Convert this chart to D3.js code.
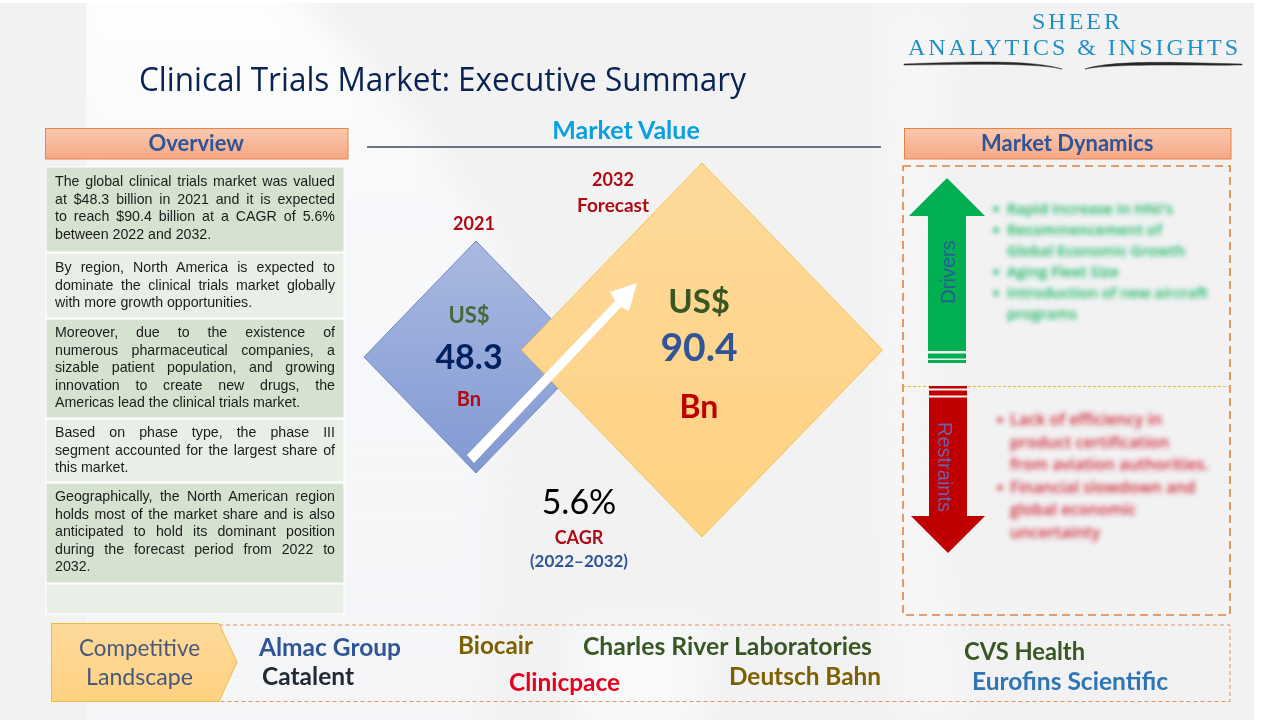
<!DOCTYPE html>
<html>
<head>
<meta charset="utf-8">
<title>Clinical Trials Market: Executive Summary</title>
<script src="https://cdn.jsdelivr.net/npm/d3@7"></script>
<style>
  html, body { margin: 0; padding: 0; background: #fff; }
  svg { display: block; }
  text { font-family: 'Lato', sans-serif; }
</style>
</head>
<body>
<svg id="chart" width="1280" height="720"></svg>
<script>
const marketYears = ['2021', '2032'];
const marketValues = [48.3, 90.4];
const cagrValue = '5.6%';
const cagrPeriod = '(2022–2032)';

const overviewParagraphs = [
    ['The global clinical trials market was valued', 'at $48.3 billion in 2021 and it is expected', 'to reach $90.4 billion at a CAGR of 5.6%', 'between 2022 and 2032.'],
    ['By region, North America is expected to', 'dominate the clinical trials market globally', 'with more growth opportunities.'],
    ['Moreover, due to the existence of', 'numerous pharmaceutical companies, a', 'sizable patient population, and growing', 'innovation to create new drugs, the', 'Americas lead the clinical trials market.'],
    ['Based on phase type, the phase III', 'segment accounted for the largest share of', 'this market.'],
    ['Geographically, the North American region', 'holds most of the market share and is also', 'anticipated to hold its dominant position', 'during the forecast period from 2022 to', '2032.'],
    []
];
const driverLines = ['Rapid increase in HNI\'s', 'Recommencement of', 'Global Economic Growth', 'Aging Fleet Size', 'Introduction of new aircraft', 'programs'];
const driverBullets = [true, true, false, true, true, false];
const restraintLines = ['Lack of efficiency in', 'product certification', 'from aviation authorities.', 'Financial slowdown and', 'global economic', 'uncertainty'];
const restraintBullets = [true, false, false, true, false, false];
const companies = ['Almac Group', 'Biocair', 'Charles River Laboratories', 'Catalent', 'Clinicpace', 'Deutsch Bahn', 'CVS Health', 'Eurofins Scientific'];

// layout, kept apart from the values above
const boxTops = [167, 253, 319, 419, 483, 584];
const boxBottoms = [252, 318, 418, 482, 583, 614];
const boxFills = ['#d5e2cf', '#e9efe6', '#d5e2cf', '#e9efe6', '#d5e2cf', '#e9efe6'];
const firstBaselines = [186, 272, 337, 437, 501];
const companyLeft = [259, 458, 583, 262, 509, 729, 964, 972];
const companyRight = [401, 533, 872, 354, 620, 881, 1085, 1168];
const companyBase = [656, 654, 655, 685, 691, 685, 660, 690];
const companyFill = ['#2f5597', '#7f6000', '#385723', '#222a35', '#e8001f', '#7f6000', '#385723', '#2e75b6'];

const svg = d3.select('#chart');
const defs = svg.append('defs');

function vGradient(id, top, bottom) {
    const g = defs.append('linearGradient').attr('id', id)
        .attr('x1', 0).attr('y1', 0).attr('x2', 0).attr('y2', 1);
    g.append('stop').attr('offset', '0%').attr('stop-color', top);
    g.append('stop').attr('offset', '100%').attr('stop-color', bottom);
}
vGradient('headerFill', '#fbc9ae', '#f5a785');
vGradient('blueFill', '#aab9e0', '#8199d3');
vGradient('amberFill', '#fed99a', '#fed282');

// white wash that is strong at the top of the picture and fades lower down
const wash = defs.append('linearGradient').attr('id', 'washFill')
    .attr('x1', 0).attr('y1', 0).attr('x2', 0).attr('y2', 1);
wash.append('stop').attr('offset', '0%').attr('stop-color', '#fff').attr('stop-opacity', 0.85);
wash.append('stop').attr('offset', '35%').attr('stop-color', '#fbfcfe').attr('stop-opacity', 0.6);
wash.append('stop').attr('offset', '100%').attr('stop-color', '#f9fafd').attr('stop-opacity', 0.45);

[['smoke', 16], ['blurText', 2.6], ['softText', 0.5]].forEach(([id, amount]) => {
    defs.append('filter').attr('id', id)
        .attr('x', '-30%').attr('y', '-30%').attr('width', '160%').attr('height', '160%')
        .append('feGaussianBlur').attr('stdDeviation', amount);
});
defs.append('clipPath').attr('id', 'smokeClip')
    .append('rect').attr('x', 86).attr('y', 3).attr('width', 1168).attr('height', 717);

// slide background with the soft white smoke
svg.append('rect')
    .attr('x', 0).attr('y', 3).attr('width', 1254).attr('height', 717)
    .attr('fill', '#f2f2f3');
const smoke = svg.append('g').attr('clip-path', 'url(#smokeClip)')
    .append('g').attr('filter', 'url(#smoke)');
smoke.append('path').attr('d', 'M60,-20 L285,-20 L420,130 L500,250 L490,740 L60,740 Z').attr('fill', 'url(#washFill)');
smoke.append('path').attr('d', 'M880,3 L960,3 C930,120 925,300 935,520 C950,600 960,660 970,720 L900,720 C880,600 885,300 880,3 Z').attr('fill', '#fcfdff').attr('opacity', 0.4);
smoke.append('path').attr('d', 'M570,625 L710,625 L700,730 L575,730 Z').attr('fill', '#fcfdff').attr('opacity', 0.6);

// title
svg.append('text')
    .attr('x', 139).attr('y', 91)
    .attr('textLength', 607)
    .attr('lengthAdjust', 'spacingAndGlyphs')
    .attr('font-size', 32)
    .style('font-family', "'Open Sans', sans-serif")
    .attr('fill', '#0b2352')
    .text('Clinical Trials Market: Executive Summary');

// logo
svg.append('text')
    .attr('x', 1032).attr('y', 29)
    .attr('textLength', 88)
    .attr('font-size', 24)
    .style('font-family', "'Liberation Serif', serif")
    .attr('fill', '#1f8fc6')
    .text('SHEER');
svg.append('text')
    .attr('x', 908).attr('y', 55)
    .attr('textLength', 330)
    .attr('font-size', 24)
    .style('font-family', "'Liberation Serif', serif")
    .attr('fill', '#1f8fc6')
    .text('ANALYTICS & INSIGHTS');
svg.append('path')
    .attr('d', 'M904,64 C960,62 1030,59 1062,69 C1030,62 960,65 904,65 Z M1242,64 C1190,63 1115,59 1085,69 C1115,63 1190,66 1242,65 Z')
    .attr('fill', '#26282c')
    .attr('stroke', '#26282c')
    .attr('stroke-width', 0.5);

// section headers
[[45, 302.5, 'Overview'], [904, 326.5, 'Market Dynamics']].forEach(([x, w, name]) => {
    svg.append('rect')
        .attr('x', x + 0.5).attr('y', 128.5).attr('width', w).attr('height', 30.5)
        .attr('fill', 'url(#headerFill)')
        .attr('stroke', '#ea8244')
        .attr('stroke-width', 1);
    svg.append('text')
        .attr('x', x + w / 2).attr('y', 151)
        .attr('text-anchor', 'middle')
        .attr('font-size', 22)
        .attr('font-weight', 700)
        .attr('fill', '#2f5597')
        .text(name);
});

// overview column
boxTops.forEach((top, i) => {
    svg.append('rect')
        .attr('x', 46).attr('y', top)
        .attr('width', 298).attr('height', boxBottoms[i] - top)
        .attr('fill', boxFills[i])
        .attr('stroke', '#fff')
        .attr('stroke-width', 1.1);
});
overviewParagraphs.forEach((lines, p) => {
    lines.forEach((line, l) => {
        const t = svg.append('text')
            .attr('x', 55).attr('y', firstBaselines[p] + l * 17.6)
            .attr('font-size', 14.2)
            .style('font-family', "'Liberation Sans', sans-serif")
            .attr('fill', '#1c1c1c')
            .text(line);
        if (l < lines.length - 1) {
            const spare = 280 - t.node().getComputedTextLength();
            t.attr('word-spacing', spare / (line.split(' ').length - 1));
        }
    });
});

// market value heading
svg.append('text')
    .attr('x', 626).attr('y', 139)
    .attr('text-anchor', 'middle')
    .attr('font-size', 25)
    .attr('font-weight', 700)
    .attr('fill', '#08a0e0')
    .text('Market Value');
svg.append('line')
    .attr('x1', 367).attr('x2', 881).attr('y1', 147).attr('y2', 147)
    .attr('stroke', '#3f4a5f').attr('stroke-width', 1.5);

// diamonds, half diagonal scaled from the market value
const halfHeight = d3.scaleLinear().domain(marketValues).range([116, 187]);
const halfWidth = d3.scaleLinear().domain(marketValues).range([112, 180.5]);
const diamondX = d3.scaleOrdinal().domain(marketYears).range([476, 702]);
const diamondY = d3.scaleOrdinal().domain(marketYears).range([357, 350]);
const diamondLine = d3.line();

svg.selectAll('path.diamond')
    .data(marketValues)
    .join('path')
    .attr('class', 'diamond')
    .attr('d', (v, i) => {
        const cx = diamondX(marketYears[i]), cy = diamondY(marketYears[i]);
        const w = halfWidth(v), h = halfHeight(v);
        return diamondLine([[cx - w, cy], [cx, cy - h], [cx + w, cy], [cx, cy + h]]) + 'Z';
    })
    .attr('fill', (v, i) => i ? 'url(#amberFill)' : 'url(#blueFill)')
    .attr('stroke', (v, i) => i ? '#f4c356' : '#6f8ac8')
    .attr('stroke-width', 1);

// growth arrow
svg.append('path')
    .attr('d', d3.line()([[467, 455], [615, 301], [610, 292], [637, 283], [629, 311], [621, 307], [474, 463]]) + 'Z')
    .attr('fill', '#fff');

function label(x, y, str, size, fill, weight) {
    return svg.append('text')
        .attr('x', x).attr('y', y)
        .attr('text-anchor', 'middle')
        .attr('font-size', size)
        .attr('font-weight', weight === undefined ? 700 : weight)
        .attr('fill', fill)
        .text(str);
}
label(474, 230, marketYears[0], 18, '#b00a14');
label(613, 186, marketYears[1], 18, '#b00a14');
label(613, 212, 'Forecast', 19, '#b00a14');
label(469, 323, 'US$', 22, '#46693a');
label(469, 369, d3.format('.1f')(marketValues[0]), 34, '#002060');
label(469, 406, 'Bn', 20, '#b00a14');
label(699, 313, 'US$', 33, '#385723');
label(699, 361, d3.format('.1f')(marketValues[1]), 39, '#2f5597');
label(699, 418, 'Bn', 32, '#c00000');
label(579, 514, cagrValue, 34, '#000', 400);
label(579, 544, 'CAGR', 18, '#b00a14');
label(579, 567, cagrPeriod, 17, '#2f5597');

// market dynamics panel
svg.append('rect')
    .attr('x', 903).attr('y', 166).attr('width', 327).attr('height', 449)
    .attr('fill', 'none')
    .attr('stroke', '#e0823f')
    .attr('stroke-width', 1.6)
    .attr('stroke-dasharray', '8 5');
svg.append('line')
    .attr('x1', 903).attr('x2', 1230).attr('y1', 386.5).attr('y2', 386.5)
    .attr('stroke', '#eebb33').attr('stroke-width', 1).attr('stroke-dasharray', '3 2');

const arrow = d3.line();
svg.append('path')
    .attr('d', arrow([[947, 178], [985, 216], [966, 216], [966, 351], [928, 351], [928, 216], [909, 216]]) + 'Z')
    .attr('fill', '#00b050');
svg.append('rect').attr('x', 928).attr('y', 353.5).attr('width', 38).attr('height', 5).attr('fill', '#00b050');
svg.append('rect').attr('x', 928).attr('y', 360).attr('width', 38).attr('height', 3).attr('fill', '#00b050');
svg.append('path')
    .attr('d', arrow([[929, 397.5], [967, 397.5], [967, 516], [985, 516], [948, 553], [911, 516], [929, 516]]) + 'Z')
    .attr('fill', '#c00000');
svg.append('rect').attr('x', 929).attr('y', 386).attr('width', 38).attr('height', 2.5).attr('fill', '#c00000');
svg.append('rect').attr('x', 929).attr('y', 390.5).attr('width', 38).attr('height', 5).attr('fill', '#c00000');

svg.append('text')
    .attr('transform', 'translate(955,272) rotate(-90)')
    .attr('text-anchor', 'middle')
    .attr('font-size', 20)
    .style('font-family', "'Liberation Sans', sans-serif")
    .attr('fill', '#2a5a9c')
    .attr('filter', 'url(#softText)')
    .text('Drivers');
svg.append('text')
    .attr('transform', 'translate(938,467) rotate(90)')
    .attr('text-anchor', 'middle')
    .attr('font-size', 20)
    .style('font-family', "'Liberation Sans', sans-serif")
    .attr('fill', '#6f5fa6')
    .attr('filter', 'url(#softText)')
    .text('Restraints');

function blurredList(lines, bullets, x, bulletX, top, step, fill, size) {
    const g = svg.append('g')
        .attr('filter', 'url(#blurText)')
        .attr('fill', fill);
    lines.forEach((line, i) => {
        const y = top + i * step;
        g.append('text')
            .attr('x', x).attr('y', y)
            .attr('font-size', size)
            .attr('font-weight', 600)
            .style('font-family', "'Open Sans', sans-serif")
            .text(line);
        if (bullets[i]) g.append('circle').attr('cx', bulletX).attr('cy', y - 5).attr('r', 2.5);
    });
}
blurredList(driverLines, driverBullets, 1007, 996, 214, 21, '#12b45c', 15);
blurredList(restraintLines, restraintBullets, 1010, 1000, 425, 22.6, '#cf2a35', 16.1);

// competitive landscape strip
svg.append('rect')
    .attr('x', 219).attr('y', 625).attr('width', 1011).attr('height', 76.5)
    .attr('fill', 'none')
    .attr('stroke', '#e8915c')
    .attr('stroke-width', 1)
    .attr('stroke-dasharray', '4 3');
svg.append('path')
    .attr('d', d3.line()([[51.5, 623.5], [219, 623.5], [237, 662], [219, 701.5], [51.5, 701.5]]) + 'Z')
    .attr('fill', 'url(#amberFill)')
    .attr('stroke', '#f2b93f')
    .attr('stroke-width', 1);
[['Competitive', 656, 79, 121], ['Landscape', 685, 86, 107]].forEach(([word, y, x, w]) => {
    svg.append('text')
        .attr('x', x).attr('y', y)
        .attr('textLength', w)
        .attr('lengthAdjust', 'spacingAndGlyphs')
        .attr('font-size', 24)
        .attr('font-weight', 400)
        .attr('fill', '#46597c')
        .text(word);
});
svg.selectAll('text.company')
    .data(companies)
    .join('text')
    .attr('class', 'company')
    .attr('x', (d, i) => companyLeft[i])
    .attr('y', (d, i) => companyBase[i])
    .attr('textLength', (d, i) => companyRight[i] - companyLeft[i])
    .attr('lengthAdjust', 'spacingAndGlyphs')
    .attr('font-size', 25)
    .attr('font-weight', 700)
    .attr('fill', (d, i) => companyFill[i])
    .text(d => d);
</script>
</body>
</html>
